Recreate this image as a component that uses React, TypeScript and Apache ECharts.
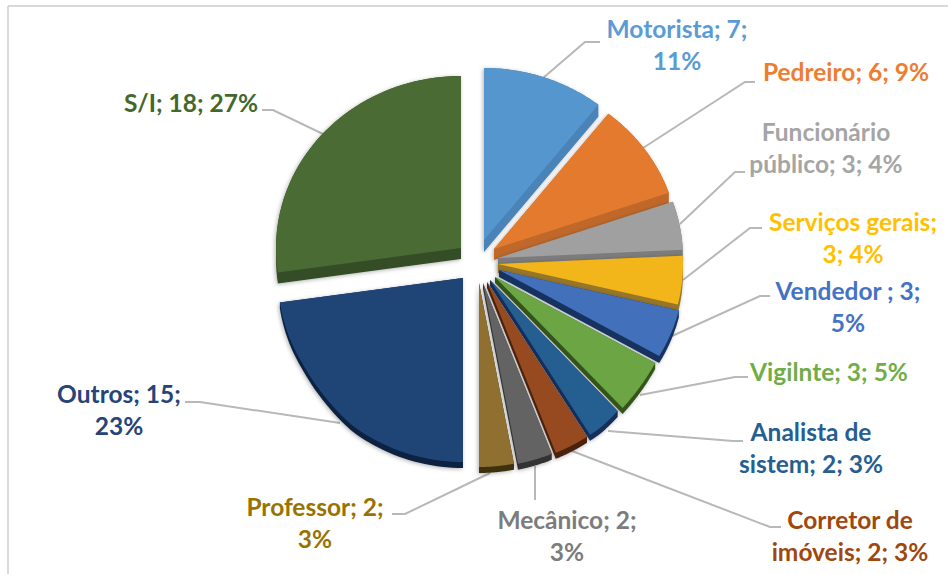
import React, { useEffect, useRef } from "react";
import * as echarts from "echarts";

const categories = ["Motorista", "Pedreiro", "Funcionário público", "Serviços gerais", "Vendedor", "Vigilnte", "Analista de sistem", "Corretor de imóveis", "Mecânico", "Professor", "Outros", "S/I"];
const values = [7, 6, 3, 3, 3, 3, 2, 2, 2, 2, 15, 18];
const labelTexts = [
  "Motorista; 7;\n11%", "Pedreiro; 6; 9%", "Funcionário\npúblico; 3; 4%", "Serviços gerais;\n3; 4%",
  "Vendedor ; 3;\n5%", "Vigilnte; 3; 5%", "Analista de\nsistem; 2; 3%", "Corretor de\nimóveis; 2; 3%",
  "Mecânico; 2;\n3%", "Professor; 2;\n3%", "Outros; 15;\n23%", "S/I; 18; 27%",
];
const topColors = ["#5596CF", "#E37A2E", "#A0A0A0", "#F3B61A", "#4370BA", "#6CA644", "#255E91", "#974A1F", "#636363", "#8F7030", "#1F4577", "#4A6B33"];
const sideColors = ["#4A83B8", "#C0682A", "#7C7C7C", "#97762A", "#14315F", "#35521F", "#132F5A", "#4A2210", "#333333", "#3E3010", "#0F2340", "#354D25"];
const textColors = ["#5B9BD5", "#ED7D31", "#A5A5A5", "#FFC000", "#4472C4", "#70AD47", "#255E91", "#9E480E", "#7C7C7C", "#997300", "#264478", "#43682B"];

const apexes = [[484, 240], [494, 249], [498, 258], [498, 264], [499, 270], [495, 277], [490, 280], [487, 282], [483, 283], [479, 283], [463, 278], [461, 248]];
const depths = [12, 11, 10, 9, 7, 6, 6, 6, 6, 6, 6, 11];
const labelAnchors = [[677, 44], [846, 71], [826, 147], [853, 237], [848, 306], [829, 371], [811, 447], [850, 535], [567, 535], [315, 522], [119, 409], [191, 102]];
const leaders = [
  [[543, 78], [585, 42], [600, 42]],
  [[643, 148], [745, 82], [755, 82]],
  [[680, 224], [735, 172], [745, 172]],
  [[683, 280], [750, 228], [762, 228]],
  [[672, 336], [760, 296], [770, 296]],
  [[640, 395], [735, 377], [748, 377]],
  [[608, 431], [733, 441], [743, 441]],
  [[572, 451], [770, 527], [781, 527]],
  [[535, 466], [535, 500]],
  [[490, 473], [405, 514], [392, 514]],
  [[340, 423], [200, 402], [185, 402]],
  [[323, 134], [273, 110], [262, 110]],
];

const RX = 185;
const RY_TOP = 172;
const RY_BOTTOM = 184;
const total = values.reduce((a, b) => a + b, 0);

function radiusY(c: number) {
  if (c >= -0.5) return RY_TOP;
  return RY_TOP + (RY_BOTTOM - RY_TOP) * Math.min(1, (-c - 0.5) / 0.3);
}

function slicePoints(i: number) {
  const before = values.slice(0, i).reduce((a, b) => a + b, 0);
  const start = (before / total) * 2 * Math.PI;
  const end = ((before + values[i]) / total) * 2 * Math.PI;
  const [ax, ay] = apexes[i];
  const pts: number[][] = [[ax, ay]];
  const n = 48;
  for (let k = 0; k <= n; k++) {
    const t = start + ((end - start) * k) / n;
    const c = Math.cos(t);
    pts.push([ax + RX * Math.sin(t), ay - radiusY(c) * c]);
  }
  return pts;
}

function hull(points: number[][]) {
  const p = [...points].sort((a, b) => a[0] - b[0] || a[1] - b[1]);
  const cross = (o: number[], a: number[], b: number[]) => (a[0] - o[0]) * (b[1] - o[1]) - (a[1] - o[1]) * (b[0] - o[0]);
  const build = (list: number[][]) => {
    const h: number[][] = [];
    for (const q of list) {
      while (h.length >= 2 && cross(h[h.length - 2], h[h.length - 1], q) <= 0) h.pop();
      h.push(q);
    }
    h.pop();
    return h;
  };
  return [...build(p), ...build([...p].reverse())];
}

export default function App() {
  const ref = useRef<HTMLDivElement>(null);
  useEffect(() => {
    const chart = echarts.init(ref.current!, undefined, { renderer: "svg" });
    chart.setOption({
      animation: false,
      backgroundColor: "#ffffff",
      graphic: [
        { type: "line", silent: true, shape: { x1: 8, y1: 6, x2: 948, y2: 6 }, style: { stroke: "#D9D9D9", lineWidth: 2 } },
        { type: "line", silent: true, shape: { x1: 8, y1: 6, x2: 8, y2: 574 }, style: { stroke: "#D9D9D9", lineWidth: 2 } },
      ],
      series: [
        {
          type: "custom",
          coordinateSystem: "none",
          silent: true,
          z: 2,
          data: values.map((v, i) => ({ name: categories[i], value: [v] })),
          renderItem: (params: any) => {
            const i = params.dataIndex;
            const pts = slicePoints(i);
            const d = depths[i];
            const all = [...pts, ...pts.map((p) => [p[0], p[1] + d])];
            return {
              type: "group",
              children: [
                {
                  type: "polygon",
                  shape: { points: hull(all) },
                  style: { fill: sideColors[i], shadowBlur: 4, shadowColor: "rgba(0,0,0,0.3)", shadowOffsetX: -1, shadowOffsetY: 1 },
                },
                { type: "polygon", shape: { points: pts }, style: { fill: topColors[i] } },
              ],
            };
          },
        },
        {
          type: "custom",
          coordinateSystem: "none",
          silent: true,
          z: 1,
          data: values.map((v, i) => ({ name: categories[i], value: [v] })),
          renderItem: (params: any) => {
            const i = params.dataIndex;
            return { type: "polyline", shape: { points: leaders[i] }, style: { stroke: "#B8B8B8", lineWidth: 2, fill: "none" } };
          },
        },
        {
          type: "custom",
          coordinateSystem: "none",
          silent: true,
          z: 3,
          data: values.map((v, i) => ({ name: categories[i], value: [v] })),
          renderItem: (params: any) => {
            const i = params.dataIndex;
            return {
              type: "text",
              style: {
                text: labelTexts[i],
                x: labelAnchors[i][0],
                y: labelAnchors[i][1],
                align: "center",
                verticalAlign: "middle",
                fill: textColors[i],
                fontFamily: "Lato",
                fontWeight: "bold",
                fontSize: 24.5,
                lineHeight: 32,
              },
            };
          },
        },
      ],
    });
    return () => chart.dispose();
  }, []);
  return <div ref={ref} style={{ position: "absolute", left: 0, top: 0, width: 948, height: 574 }} />;
}
